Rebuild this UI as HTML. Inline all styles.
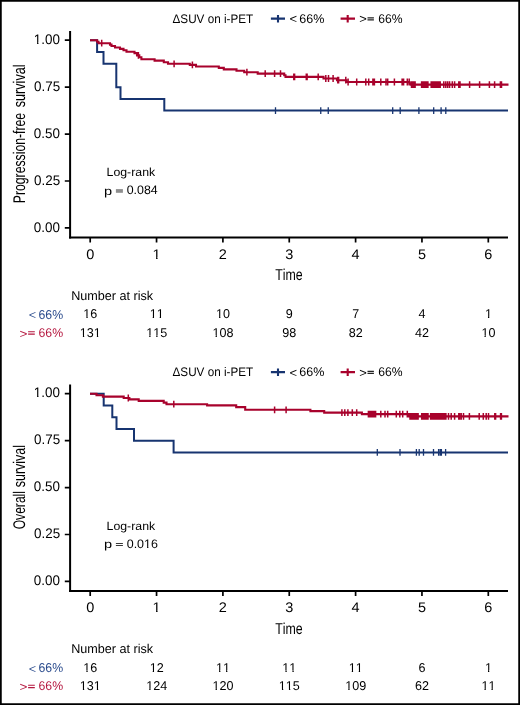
<!DOCTYPE html>
<html><head><meta charset="utf-8"><title>Kaplan-Meier curves</title>
<style>
html,body{margin:0;padding:0;background:#fff;}
body{width:520px;height:705px;overflow:hidden;}
svg{display:block;font-family:"Liberation Sans", sans-serif;will-change:transform;font-kerning:none;text-rendering:geometricPrecision;}
</style></head><body>
<svg width="520" height="705" viewBox="0 0 520 705">
<rect x="0" y="0" width="520" height="705" fill="#fff"/>
<g transform="translate(172.52 22.5) scale(0.9407 1)"><text font-size="12.444" fill="#000">ΔSUV on i-PET</text></g>
<path d="M270.9 18.65H285M278 14.9V22.4" stroke="#173470" stroke-width="2.1" fill="none"/>
<g transform="translate(289.59 23.48) scale(1.0464 1)"><text font-size="12.424" fill="#000">&lt;</text></g>
<g transform="translate(299.31 22.6) scale(0.9948 1)"><text font-size="12.587" fill="#000">66%</text></g>
<path d="M340.6 18.65H355M347.7 14.9V22.4" stroke="#a8022c" stroke-width="2.1" fill="none"/>
<g transform="translate(359.29 23.18) scale(1.0464 1)"><text font-size="12.424" fill="#000">&gt;</text></g>
<path d="M367.5 17.8H373.9M367.5 19.9H373.9" stroke="#222" stroke-width="1.2" fill="none"/>
<g transform="translate(378.23 22.6) scale(0.9659 1)"><text font-size="12.587" fill="#000">66%</text></g>
<path d="M70.1 31V238.5" stroke="#000" stroke-width="2" fill="none"/>
<path d="M69.1 237.5H508" stroke="#000" stroke-width="1.8" fill="none"/>
<path d="M64.8 227.95H70M64.8 181.01H70M64.8 134.07H70M64.8 87.13H70M64.8 40.19H70M90.2 237.5V242.6M156.55 237.5V242.6M222.9 237.5V242.6M289.25 237.5V242.6M355.6 237.5V242.6M421.95 237.5V242.6M488.3 237.5V242.6" stroke="#000" stroke-width="1.7" fill="none"/>
<g transform="translate(33.78 231.75) scale(0.9691 1)"><text font-size="13.867" fill="#000">0.00</text></g>
<g transform="translate(33.99 184.81) scale(0.9691 1)"><text font-size="13.867" fill="#000">0.25</text></g>
<g transform="translate(33.78 137.87) scale(0.9691 1)"><text font-size="13.867" fill="#000">0.50</text></g>
<g transform="translate(33.99 90.93) scale(0.9691 1)"><text font-size="13.867" fill="#000">0.75</text></g>
<g transform="translate(33.78 43.99) scale(0.9691 1)"><text font-size="13.867" fill="#000">1.00</text><path d="M-0.28 -1.39H3.4V0.97H-0.28ZM4.83 -1.39H8.04V0.97H4.83Z" fill="#fff"/></g>
<g transform="translate(86.17 258.75) scale(1.0351 1)"><text font-size="14.009" fill="#000">0</text></g>
<g transform="translate(152.52 258.75) scale(1.0351 1)"><text font-size="14.009" fill="#000">1</text><path d="M-0.28 -1.4H3.43V0.98H-0.28ZM4.88 -1.4H8.13V0.98H4.88Z" fill="#fff"/></g>
<g transform="translate(218.87 258.75) scale(1.0351 1)"><text font-size="14.009" fill="#000">2</text></g>
<g transform="translate(285.22 258.75) scale(1.0351 1)"><text font-size="14.009" fill="#000">3</text></g>
<g transform="translate(351.57 258.75) scale(1.0351 1)"><text font-size="14.009" fill="#000">4</text></g>
<g transform="translate(417.92 258.75) scale(1.0351 1)"><text font-size="14.009" fill="#000">5</text></g>
<g transform="translate(484.27 258.75) scale(1.0351 1)"><text font-size="14.009" fill="#000">6</text></g>
<g transform="translate(275.21 280.3) scale(0.7838 1)"><text font-size="15.787" fill="#000">Time</text></g>
<g transform="translate(25.35 203.26) rotate(-90) scale(0.7247 1)"><text font-size="16.885" fill="#000">Progression-free</text></g><g transform="translate(25.35 107.2) rotate(-90) scale(0.7465 1)"><text font-size="16.885" fill="#000">survival</text></g>
<path d="M90 40.25H97.1V51.94H103.5V63.67H116.3V87.15H120.5V98.89H164.3V110.62H508" stroke="#173470" stroke-width="2" fill="none"/>
<path d="M275.5 107.22V114.03M320.75 107.22V114.03M328.25 107.22V114.03M392.7 107.22V114.03M400.2 107.22V114.03M418.9 107.22V114.03M433.7 107.22V114.03M441.1 107.22V114.03M445.8 107.22V114.03" stroke="#173470" stroke-width="1.3" fill="none"/>
<path d="M90 40.25H97.1V41.8H98.5V43.2H110V44.6H111.5V46H115V47.5H120V48.9H123.5V50.3H126.5V51.8H134.5V53.1H137V55.4H139.3V57.2H141.4V59.2H154.6V60.6H163.8V62.2H168V63.8H189.8V64.9H196V66.5H218.8V67.9H223.8V69.4H236.5V70.8H244.2V72.2H257.7V73.6H284.2V75.2H285.5V76.9H323.5V78.5H337V80.2H346.6V82H409.5V83.4H411V84.6H508.5" stroke="#a8022c" stroke-width="2.1" fill="none"/>
<path d="M101.7 39.8V46.6M138.4 52V58.8M174.1 60.4V67.2M192.4 61.5V68.3M246.9 68.8V75.6M265.2 70.2V77M274.6 70.2V77M280.5 70.2V77M293.8 73.5V80.3M294.6 73.5V80.3M306.3 73.5V80.3M307.1 73.5V80.3M318.2 73.5V80.3M325.8 75.1V81.9M328.5 75.1V81.9M333.1 75.1V81.9M337.8 76.8V83.6M338.6 76.8V83.6M345.8 76.8V83.6M348.1 78.6V85.4M356.7 78.6V85.4M365.8 78.6V85.4M368.7 78.6V85.4M372.9 78.6V85.4M374.4 78.6V85.4M380.8 78.6V85.4M386 78.6V85.4M387.7 78.6V85.4M394.4 78.6V85.4M402.1 78.6V85.4M403.6 78.6V85.4M407.3 78.6V85.4M409.2 78.6V85.4M411.5 81.2V88M412.4 81.2V88M413.3 81.2V88M414.2 81.2V88M415.1 81.2V88M421.6 81.2V88M422.5 81.2V88M423.4 81.2V88M424.3 81.2V88M425.2 81.2V88M426.1 81.2V88M427 81.2V88M427.9 81.2V88M431.2 81.2V88M432.1 81.2V88M433 81.2V88M433.9 81.2V88M434.8 81.2V88M435.7 81.2V88M436.6 81.2V88M437.5 81.2V88M438.4 81.2V88M439.3 81.2V88M440.2 81.2V88M443.8 81.2V88M445.8 81.2V88M447.7 81.2V88M449.6 81.2V88M452.3 81.2V88M454.6 81.2V88M458.8 81.2V88M460 81.2V88M469.6 81.2V88M479.6 81.2V88M489.4 81.2V88M494.6 81.2V88M500.4 81.2V88M501.5 81.2V88" stroke="#a8022c" stroke-width="1.5" fill="none"/>
<g transform="translate(106.54 176.1) scale(1.0384 1)"><text font-size="11.876" fill="#000">Log-rank</text></g>
<g transform="translate(103.99 194.73) scale(1.2391 1)"><text font-size="11.755" fill="#000">p</text></g>
<rect x="115.9" y="189.1" width="7" height="3.7" fill="#8e8e8e"/>
<g transform="translate(126.71 194.4) scale(1.0068 1)"><text font-size="12.302" fill="#000">0.084</text></g>
<g transform="translate(71.16 299.9) scale(0.9858 1)"><text font-size="12.800" fill="#000">Number at risk</text></g>
<g transform="translate(28.71 319.26) scale(1.0298 1)"><text font-size="12.235" fill="#2a4b8d">&lt;</text></g>
<g transform="translate(38.52 318.7) scale(0.9566 1)"><text font-size="12.871" fill="#2a4b8d">66%</text></g>
<g transform="translate(19.56 337.63) scale(1.0865 1)"><text font-size="12.518" fill="#b5173f">&gt;</text></g>
<path d="M28.1 331.7H34.8M28.1 334.1H34.8" stroke="#b5173f" stroke-width="1.05" fill="none"/>
<g transform="translate(38.52 336.8) scale(0.9728 1)"><text font-size="12.658" fill="#b5173f">66%</text></g>
<g transform="translate(83.3 318) scale(0.9828 1)"><text font-size="12.800" fill="#000">16</text><path d="M-0.26 -1.28H3.14V0.9H-0.26ZM4.45 -1.28H7.42V0.9H4.45Z" fill="#fff"/></g>
<g transform="translate(79.81 336.5) scale(0.9828 1)"><text font-size="12.800" fill="#000">131</text><path d="M-0.26 -1.28H3.14V0.9H-0.26ZM4.45 -1.28H7.42V0.9H4.45Z" fill="#fff"/><path d="M13.98 -1.28H17.37V0.9H13.98ZM18.69 -1.28H21.66V0.9H18.69Z" fill="#fff"/></g>
<g transform="translate(149.65 318) scale(0.9828 1)"><text font-size="12.800" fill="#000">11</text><path d="M-0.26 -1.28H3.14V0.9H-0.26ZM4.45 -1.28H7.42V0.9H4.45Z" fill="#fff"/><path d="M6.86 -1.28H10.25V0.9H6.86ZM11.57 -1.28H14.54V0.9H11.57Z" fill="#fff"/></g>
<g transform="translate(146.16 336.5) scale(0.9828 1)"><text font-size="12.800" fill="#000">115</text><path d="M-0.26 -1.28H3.14V0.9H-0.26ZM4.45 -1.28H7.42V0.9H4.45Z" fill="#fff"/><path d="M6.86 -1.28H10.25V0.9H6.86ZM11.57 -1.28H14.54V0.9H11.57Z" fill="#fff"/></g>
<g transform="translate(216 318) scale(0.9828 1)"><text font-size="12.800" fill="#000">10</text><path d="M-0.26 -1.28H3.14V0.9H-0.26ZM4.45 -1.28H7.42V0.9H4.45Z" fill="#fff"/></g>
<g transform="translate(212.51 336.5) scale(0.9828 1)"><text font-size="12.800" fill="#000">108</text><path d="M-0.26 -1.28H3.14V0.9H-0.26ZM4.45 -1.28H7.42V0.9H4.45Z" fill="#fff"/></g>
<g transform="translate(285.85 318) scale(0.9828 1)"><text font-size="12.800" fill="#000">9</text></g>
<g transform="translate(282.35 336.5) scale(0.9828 1)"><text font-size="12.800" fill="#000">98</text></g>
<g transform="translate(352.2 318) scale(0.9828 1)"><text font-size="12.800" fill="#000">7</text></g>
<g transform="translate(348.7 336.5) scale(0.9828 1)"><text font-size="12.800" fill="#000">82</text></g>
<g transform="translate(418.55 318) scale(0.9828 1)"><text font-size="12.800" fill="#000">4</text></g>
<g transform="translate(415.05 336.5) scale(0.9828 1)"><text font-size="12.800" fill="#000">42</text></g>
<g transform="translate(484.9 318) scale(0.9828 1)"><text font-size="12.800" fill="#000">1</text><path d="M-0.26 -1.28H3.14V0.9H-0.26ZM4.45 -1.28H7.42V0.9H4.45Z" fill="#fff"/></g>
<g transform="translate(481.4 336.5) scale(0.9828 1)"><text font-size="12.800" fill="#000">10</text><path d="M-0.26 -1.28H3.14V0.9H-0.26ZM4.45 -1.28H7.42V0.9H4.45Z" fill="#fff"/></g>
<g transform="translate(172.52 376) scale(0.9407 1)"><text font-size="12.444" fill="#000">ΔSUV on i-PET</text></g>
<path d="M270.9 372.15H285M278 368.4V375.9" stroke="#173470" stroke-width="2.1" fill="none"/>
<g transform="translate(289.59 376.98) scale(1.0464 1)"><text font-size="12.424" fill="#000">&lt;</text></g>
<g transform="translate(299.31 376.1) scale(0.9948 1)"><text font-size="12.587" fill="#000">66%</text></g>
<path d="M340.6 372.15H355M347.7 368.4V375.9" stroke="#a8022c" stroke-width="2.1" fill="none"/>
<g transform="translate(359.29 376.68) scale(1.0464 1)"><text font-size="12.424" fill="#000">&gt;</text></g>
<path d="M367.5 371.3H373.9M367.5 373.4H373.9" stroke="#222" stroke-width="1.2" fill="none"/>
<g transform="translate(378.23 376.1) scale(0.9659 1)"><text font-size="12.587" fill="#000">66%</text></g>
<path d="M70.1 384.5V592" stroke="#000" stroke-width="2" fill="none"/>
<path d="M69.1 591H508" stroke="#000" stroke-width="1.8" fill="none"/>
<path d="M64.8 581.45H70M64.8 534.51H70M64.8 487.57H70M64.8 440.63H70M64.8 393.69H70M90.2 591V596.1M156.55 591V596.1M222.9 591V596.1M289.25 591V596.1M355.6 591V596.1M421.95 591V596.1M488.3 591V596.1" stroke="#000" stroke-width="1.7" fill="none"/>
<g transform="translate(33.78 585.25) scale(0.9691 1)"><text font-size="13.867" fill="#000">0.00</text></g>
<g transform="translate(33.99 538.31) scale(0.9691 1)"><text font-size="13.867" fill="#000">0.25</text></g>
<g transform="translate(33.78 491.37) scale(0.9691 1)"><text font-size="13.867" fill="#000">0.50</text></g>
<g transform="translate(33.99 444.43) scale(0.9691 1)"><text font-size="13.867" fill="#000">0.75</text></g>
<g transform="translate(33.78 397.49) scale(0.9691 1)"><text font-size="13.867" fill="#000">1.00</text><path d="M-0.28 -1.39H3.4V0.97H-0.28ZM4.83 -1.39H8.04V0.97H4.83Z" fill="#fff"/></g>
<g transform="translate(86.17 612.25) scale(1.0351 1)"><text font-size="14.009" fill="#000">0</text></g>
<g transform="translate(152.52 612.25) scale(1.0351 1)"><text font-size="14.009" fill="#000">1</text><path d="M-0.28 -1.4H3.43V0.98H-0.28ZM4.88 -1.4H8.13V0.98H4.88Z" fill="#fff"/></g>
<g transform="translate(218.87 612.25) scale(1.0351 1)"><text font-size="14.009" fill="#000">2</text></g>
<g transform="translate(285.22 612.25) scale(1.0351 1)"><text font-size="14.009" fill="#000">3</text></g>
<g transform="translate(351.57 612.25) scale(1.0351 1)"><text font-size="14.009" fill="#000">4</text></g>
<g transform="translate(417.92 612.25) scale(1.0351 1)"><text font-size="14.009" fill="#000">5</text></g>
<g transform="translate(484.27 612.25) scale(1.0351 1)"><text font-size="14.009" fill="#000">6</text></g>
<g transform="translate(275.21 633.8) scale(0.7838 1)"><text font-size="15.787" fill="#000">Time</text></g>
<g transform="translate(25.35 529.27) rotate(-90) scale(0.7154 1)"><text font-size="16.885" fill="#000">Overall</text></g><g transform="translate(25.35 487.19) rotate(-90) scale(0.7358 1)"><text font-size="16.885" fill="#000">survival</text></g>
<path d="M90 393.75H103.7V405.44H112.3V417.17H116.5V428.91H134V440.65H173.6V452.39H508" stroke="#173470" stroke-width="2" fill="none"/>
<path d="M377.3 448.99V455.79M400 448.99V455.79M416.4 448.99V455.79M419.2 448.99V455.79M423.5 448.99V455.79M433.5 448.99V455.79M438.6 448.99V455.79M440.2 448.99V455.79M441.4 448.99V455.79M445.6 448.99V455.79" stroke="#173470" stroke-width="1.3" fill="none"/>
<path d="M90 393.75H96.5V395.3H102.9V396.6H123.7V398H129.4V399.4H138.7V400.9H163.7V402.6H166.5V404.2H207.1V405.4H236.2V407.1H245.2V409.8H310.4V411.1H324.2V412.6H361.9V414.1H409V416.4H508.5" stroke="#a8022c" stroke-width="2.1" fill="none"/>
<path d="M128.3 394.6V401.4M173.8 400.8V407.6M274.6 406.4V413.2M286.1 406.4V413.2M341.9 409.2V416M344.8 409.2V416M347.9 409.2V416M352.3 409.2V416M356.7 409.2V416M368.4 410.7V417.5M369.3 410.7V417.5M370.2 410.7V417.5M371.1 410.7V417.5M372 410.7V417.5M372.9 410.7V417.5M373.8 410.7V417.5M374.7 410.7V417.5M375.6 410.7V417.5M380.8 410.7V417.5M385 410.7V417.5M387.7 410.7V417.5M396.3 410.7V417.5M399.8 410.7V417.5M402.7 410.7V417.5M407.3 410.7V417.5M410 413V419.8M410.9 413V419.8M411.8 413V419.8M412.7 413V419.8M413.6 413V419.8M414.5 413V419.8M415.4 413V419.8M416.3 413V419.8M417.2 413V419.8M418.1 413V419.8M421.7 413V419.8M422.6 413V419.8M423.5 413V419.8M424.4 413V419.8M425.3 413V419.8M426.2 413V419.8M427.1 413V419.8M428 413V419.8M430.6 413V419.8M431.5 413V419.8M432.4 413V419.8M433.3 413V419.8M434.2 413V419.8M435.1 413V419.8M436 413V419.8M436.9 413V419.8M437.8 413V419.8M438.7 413V419.8M439.6 413V419.8M440.5 413V419.8M441.4 413V419.8M442.3 413V419.8M443.2 413V419.8M444.1 413V419.8M445 413V419.8M445.9 413V419.8M448.5 413V419.8M451.2 413V419.8M454.6 413V419.8M458.8 413V419.8M459.6 413V419.8M461.2 413V419.8M463.5 413V419.8M469.4 413V419.8M479.2 413V419.8M483.3 413V419.8M486.2 413V419.8M488.5 413V419.8M494.8 413V419.8M495.6 413V419.8M500.6 413V419.8M501.4 413V419.8" stroke="#a8022c" stroke-width="1.5" fill="none"/>
<g transform="translate(106.54 529.6) scale(1.0384 1)"><text font-size="11.876" fill="#000">Log-rank</text></g>
<g transform="translate(103.99 548.23) scale(1.2391 1)"><text font-size="11.755" fill="#000">p</text></g>
<path d="M115.9 543.5H122.9M115.9 545.5H122.9" stroke="#383838" stroke-width="1.1" fill="none"/>
<g transform="translate(126.71 547.9) scale(1.0133 1)"><text font-size="12.302" fill="#000">0.016</text><path d="M16.86 -1.23H20.12V0.86H16.86ZM21.38 -1.23H24.24V0.86H21.38Z" fill="#fff"/></g>
<g transform="translate(71.16 653.4) scale(0.9858 1)"><text font-size="12.800" fill="#000">Number at risk</text></g>
<g transform="translate(28.71 672.76) scale(1.0298 1)"><text font-size="12.235" fill="#2a4b8d">&lt;</text></g>
<g transform="translate(38.52 672.2) scale(0.9566 1)"><text font-size="12.871" fill="#2a4b8d">66%</text></g>
<g transform="translate(19.56 691.13) scale(1.0865 1)"><text font-size="12.518" fill="#b5173f">&gt;</text></g>
<path d="M28.1 685.2H34.8M28.1 687.6H34.8" stroke="#b5173f" stroke-width="1.05" fill="none"/>
<g transform="translate(38.52 690.3) scale(0.9728 1)"><text font-size="12.658" fill="#b5173f">66%</text></g>
<g transform="translate(83.3 671.5) scale(0.9828 1)"><text font-size="12.800" fill="#000">16</text><path d="M-0.26 -1.28H3.14V0.9H-0.26ZM4.45 -1.28H7.42V0.9H4.45Z" fill="#fff"/></g>
<g transform="translate(79.81 690) scale(0.9828 1)"><text font-size="12.800" fill="#000">131</text><path d="M-0.26 -1.28H3.14V0.9H-0.26ZM4.45 -1.28H7.42V0.9H4.45Z" fill="#fff"/><path d="M13.98 -1.28H17.37V0.9H13.98ZM18.69 -1.28H21.66V0.9H18.69Z" fill="#fff"/></g>
<g transform="translate(149.65 671.5) scale(0.9828 1)"><text font-size="12.800" fill="#000">12</text><path d="M-0.26 -1.28H3.14V0.9H-0.26ZM4.45 -1.28H7.42V0.9H4.45Z" fill="#fff"/></g>
<g transform="translate(146.16 690) scale(0.9828 1)"><text font-size="12.800" fill="#000">124</text><path d="M-0.26 -1.28H3.14V0.9H-0.26ZM4.45 -1.28H7.42V0.9H4.45Z" fill="#fff"/></g>
<g transform="translate(216 671.5) scale(0.9828 1)"><text font-size="12.800" fill="#000">11</text><path d="M-0.26 -1.28H3.14V0.9H-0.26ZM4.45 -1.28H7.42V0.9H4.45Z" fill="#fff"/><path d="M6.86 -1.28H10.25V0.9H6.86ZM11.57 -1.28H14.54V0.9H11.57Z" fill="#fff"/></g>
<g transform="translate(212.51 690) scale(0.9828 1)"><text font-size="12.800" fill="#000">120</text><path d="M-0.26 -1.28H3.14V0.9H-0.26ZM4.45 -1.28H7.42V0.9H4.45Z" fill="#fff"/></g>
<g transform="translate(282.35 671.5) scale(0.9828 1)"><text font-size="12.800" fill="#000">11</text><path d="M-0.26 -1.28H3.14V0.9H-0.26ZM4.45 -1.28H7.42V0.9H4.45Z" fill="#fff"/><path d="M6.86 -1.28H10.25V0.9H6.86ZM11.57 -1.28H14.54V0.9H11.57Z" fill="#fff"/></g>
<g transform="translate(278.86 690) scale(0.9828 1)"><text font-size="12.800" fill="#000">115</text><path d="M-0.26 -1.28H3.14V0.9H-0.26ZM4.45 -1.28H7.42V0.9H4.45Z" fill="#fff"/><path d="M6.86 -1.28H10.25V0.9H6.86ZM11.57 -1.28H14.54V0.9H11.57Z" fill="#fff"/></g>
<g transform="translate(348.7 671.5) scale(0.9828 1)"><text font-size="12.800" fill="#000">11</text><path d="M-0.26 -1.28H3.14V0.9H-0.26ZM4.45 -1.28H7.42V0.9H4.45Z" fill="#fff"/><path d="M6.86 -1.28H10.25V0.9H6.86ZM11.57 -1.28H14.54V0.9H11.57Z" fill="#fff"/></g>
<g transform="translate(345.21 690) scale(0.9828 1)"><text font-size="12.800" fill="#000">109</text><path d="M-0.26 -1.28H3.14V0.9H-0.26ZM4.45 -1.28H7.42V0.9H4.45Z" fill="#fff"/></g>
<g transform="translate(418.55 671.5) scale(0.9828 1)"><text font-size="12.800" fill="#000">6</text></g>
<g transform="translate(415.05 690) scale(0.9828 1)"><text font-size="12.800" fill="#000">62</text></g>
<g transform="translate(484.9 671.5) scale(0.9828 1)"><text font-size="12.800" fill="#000">1</text><path d="M-0.26 -1.28H3.14V0.9H-0.26ZM4.45 -1.28H7.42V0.9H4.45Z" fill="#fff"/></g>
<g transform="translate(481.4 690) scale(0.9828 1)"><text font-size="12.800" fill="#000">11</text><path d="M-0.26 -1.28H3.14V0.9H-0.26ZM4.45 -1.28H7.42V0.9H4.45Z" fill="#fff"/><path d="M6.86 -1.28H10.25V0.9H6.86ZM11.57 -1.28H14.54V0.9H11.57Z" fill="#fff"/></g>
<path d="M0 0H520V705H0ZM1.75 1.7V703.2H518.25V1.7Z" fill="#000" fill-rule="evenodd"/>
</svg>
</body></html>
